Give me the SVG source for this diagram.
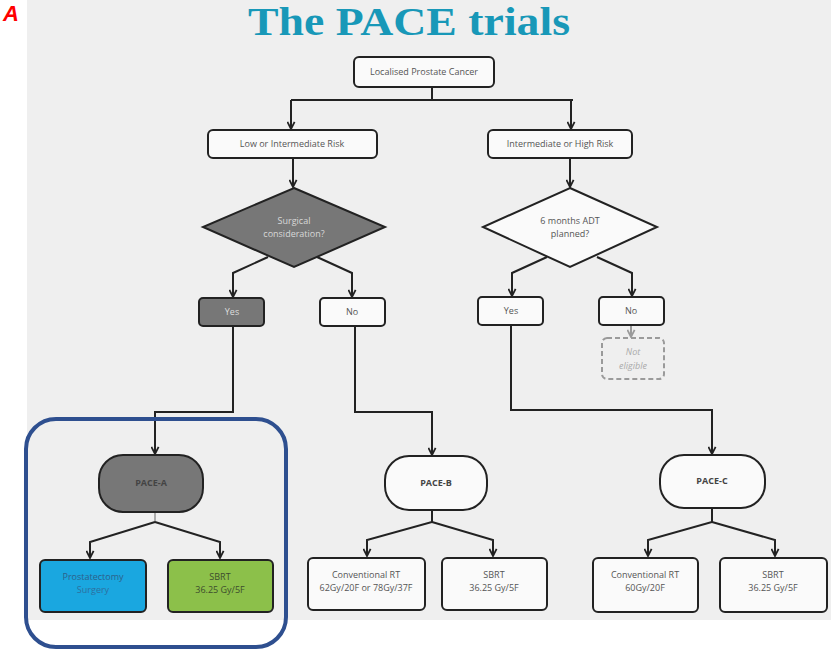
<svg xmlns="http://www.w3.org/2000/svg" width="831" height="650" viewBox="0 0 831 650">
<defs>
<marker id="arr" viewBox="0 0 10 10" refX="9" refY="5" markerWidth="9" markerHeight="9" markerUnits="userSpaceOnUse" orient="auto">
<path d="M1,1 L9,5 L1,9" fill="none" stroke="#222" stroke-width="2"/>
</marker>
<marker id="arrg" viewBox="0 0 10 10" refX="9" refY="5" markerWidth="9" markerHeight="9" markerUnits="userSpaceOnUse" orient="auto">
<path d="M1,1 L9,5 L1,9" fill="none" stroke="#9a9a9a" stroke-width="2"/>
</marker>
</defs>
<style>
.box{fill:#fafafa;stroke:#222;stroke-width:2}
.grey{fill:#777;stroke:#222;stroke-width:2}
.t{font-family:"Open Sans","Liberation Sans",sans-serif;font-size:9px;fill:#555;text-anchor:middle}
.tb{font-family:"Open Sans","Liberation Sans",sans-serif;font-size:9px;fill:#444;text-anchor:middle;font-weight:bold}
.c{fill:none;stroke:#222;stroke-width:2}
</style>
<rect x="0" y="0" width="831" height="650" fill="#ffffff"/>
<rect x="27" y="0" width="804" height="620" fill="#efefef"/>
<text x="3" y="21" font-family="Liberation Sans, sans-serif" font-size="22" font-weight="bold" font-style="italic" fill="#ff0000">A</text>
<text x="409" y="35" font-family="Liberation Serif, serif" font-size="40" font-weight="bold" fill="#1898b8" text-anchor="middle" textLength="322" lengthAdjust="spacingAndGlyphs">The PACE trials</text>

<g id="connectors">
<path class="c" d="M432,87 V100 M291,100 H573"/>
<path class="c" d="M291,100 V129" marker-end="url(#arr)"/>
<path class="c" d="M571,100 V129" marker-end="url(#arr)"/>
<path class="c" d="M293,158 V187" marker-end="url(#arr)"/>
<path class="c" d="M570,158 V187" marker-end="url(#arr)"/>
<path class="c" d="M268,257 L233,273 V297" marker-end="url(#arr)"/>
<path class="c" d="M317,257 L352,273 V297" marker-end="url(#arr)"/>
<path class="c" d="M547,257 L512,273 V296" marker-end="url(#arr)"/>
<path class="c" d="M597,257 L632,273 V296" marker-end="url(#arr)"/>
<path d="M631,325 V337" fill="none" stroke="#9a9a9a" stroke-width="2" marker-end="url(#arrg)"/>
<path class="c" d="M233,326 V412 H155 V454" marker-end="url(#arr)"/>
<path class="c" d="M355,326 V412 H432 V455" marker-end="url(#arr)"/>
<path class="c" d="M511,325 V410 H712 V454" marker-end="url(#arr)"/>
<path d="M155,512 V522" fill="none" stroke="#aaa" stroke-width="2"/>
<path class="c" d="M155,522 L90,542 V558" marker-end="url(#arr)"/>
<path class="c" d="M155,522 L220,542 V558" marker-end="url(#arr)"/>
<path class="c" d="M432,510 V522 L367,540 V556" marker-end="url(#arr)"/>
<path class="c" d="M432,522 L493,540 V556" marker-end="url(#arr)"/>
<path class="c" d="M712,508 V522 L648,540 V556" marker-end="url(#arr)"/>
<path class="c" d="M712,522 L775,540 V556" marker-end="url(#arr)"/>
</g>

<g id="root"><rect class="box" x="354" y="57" width="140" height="30" rx="5"/><text class="t" x="424" y="75">Localised Prostate Cancer</text></g>
<g id="lowrisk"><rect class="box" x="208" y="130" width="169" height="28" rx="5"/><text class="t" x="292" y="147">Low or Intermediate Risk</text></g>
<g id="highrisk"><rect class="box" x="488" y="130" width="144" height="28" rx="5"/><text class="t" x="560" y="147">Intermediate or High Risk</text></g>
<g id="surgical"><polygon class="grey" points="294,188 385,227 294,267 203,227"/><text class="t" x="294" y="224" style="fill:#d8d8d8">Surgical</text><text class="t" x="294" y="237" style="fill:#d8d8d8">consideration?</text></g>
<g id="adt"><polygon class="box" points="570,188 657,227 570,267 483,227"/><text class="t" x="570" y="224">6 months ADT</text><text class="t" x="570" y="237">planned?</text></g>
<g id="yes1"><rect class="grey" x="199" y="298" width="65" height="28" rx="4"/><text class="t" x="232" y="315" style="fill:#ddd">Yes</text></g>
<g id="no1"><rect class="box" x="320" y="298" width="65" height="28" rx="4"/><text class="t" x="352" y="315">No</text></g>
<g id="yes2"><rect class="box" x="478" y="297" width="65" height="28" rx="4"/><text class="t" x="511" y="314">Yes</text></g>
<g id="no2"><rect class="box" x="599" y="297" width="65" height="28" rx="4"/><text class="t" x="631" y="314">No</text></g>
<g id="noteligible"><rect x="602" y="338" width="62" height="41" rx="5" fill="none" stroke="#9a9a9a" stroke-width="2" stroke-dasharray="5,3"/><text class="t" x="633" y="355" font-style="italic" style="fill:#aaa">Not</text><text class="t" x="633" y="369" font-style="italic" style="fill:#aaa">eligible</text></g>
<g id="pacea"><rect class="grey" x="99" y="455" width="104" height="57" rx="24"/><text class="tb" x="151" y="486">PACE-A</text></g>
<g id="paceb"><rect class="box" x="385" y="456" width="102" height="54" rx="24"/><text class="tb" x="436" y="486">PACE-B</text></g>
<g id="pacec"><rect class="box" x="660" y="455" width="105" height="53" rx="24"/><text class="tb" x="712" y="484">PACE-C</text></g>
<g id="prostatectomy"><rect x="40" y="560" width="106" height="52" rx="5" fill="#1aa7e0" stroke="#222" stroke-width="2"/><text class="t" x="93" y="580" style="fill:#2d5f8a">Prostatectomy</text><text class="t" x="93" y="593" style="fill:#2d6f9f">Surgery</text></g>
<g id="sbrta"><rect x="168" y="560" width="105" height="52" rx="5" fill="#8cc04a" stroke="#222" stroke-width="2"/><text class="t" x="220" y="580" style="fill:#3d4d2d">SBRT</text><text class="t" x="220" y="593" style="fill:#3d4d2d">36.25 Gy/5F</text></g>
<g id="convb"><rect class="box" x="308" y="558" width="117" height="52" rx="5"/><text class="t" x="366" y="578">Conventional RT</text><text class="t" x="366" y="591" font-size="8">62Gy/20F or 78Gy/37F</text></g>
<g id="sbrtb"><rect class="box" x="442" y="558" width="105" height="52" rx="5"/><text class="t" x="494" y="578">SBRT</text><text class="t" x="494" y="591">36.25 Gy/5F</text></g>
<g id="convc"><rect class="box" x="593" y="558" width="105" height="54" rx="5"/><text class="t" x="645" y="578">Conventional RT</text><text class="t" x="645" y="591">60Gy/20F</text></g>
<g id="sbrtc"><rect class="box" x="720" y="558" width="107" height="54" rx="5"/><text class="t" x="773" y="578">SBRT</text><text class="t" x="773" y="591">36.25 Gy/5F</text></g>
<rect id="highlight" x="26" y="419" width="260" height="228" rx="30" fill="none" stroke="#2e4f8f" stroke-width="4"/>
</svg>
